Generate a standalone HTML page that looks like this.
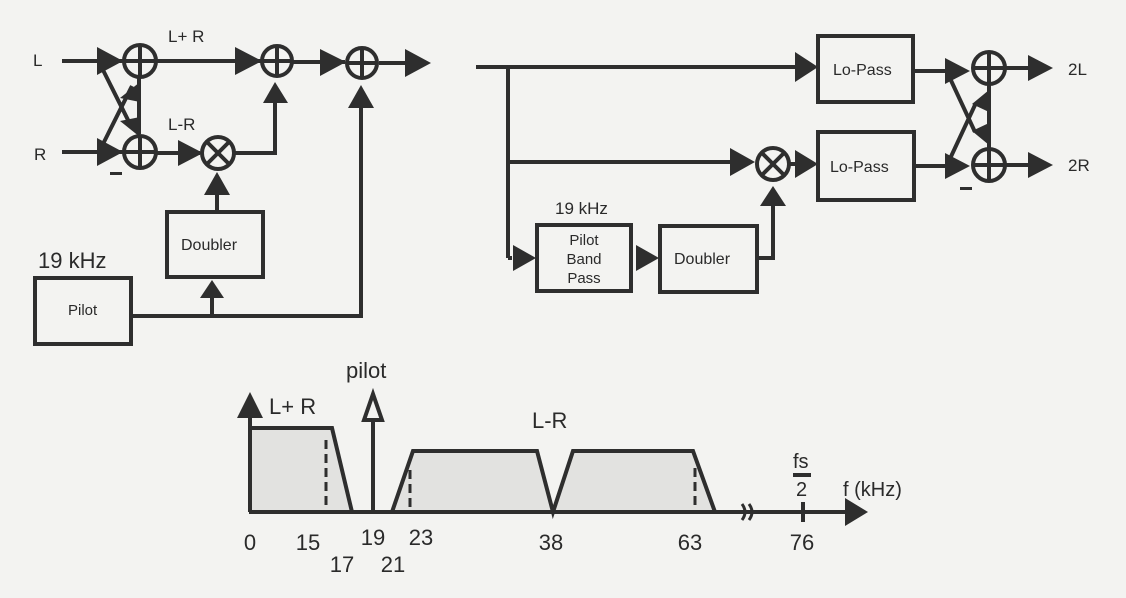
<!DOCTYPE html>
<html><head><meta charset="utf-8"><style>
html,body{margin:0;padding:0;background:#f3f3f1;}
svg{display:block;}
text{font-family:"Liberation Sans",sans-serif;fill:#2a2a2a;}
</style></head><body>
<svg width="1126" height="598" viewBox="0 0 1126 598" xmlns="http://www.w3.org/2000/svg">
<rect width="1126" height="598" fill="#f3f3f1"/>
<g stroke="#2e2e2e" stroke-width="4" fill="none">
<!-- Left encoder -->
<line x1="62" y1="61" x2="123" y2="61"/>
<line x1="62" y1="152" x2="123" y2="152"/>
<line x1="100" y1="64" x2="132" y2="128"/>
<line x1="100" y1="150" x2="132" y2="86"/>
<line x1="139" y1="77" x2="139" y2="134"/>
<line x1="155" y1="61" x2="262" y2="61"/>
<line x1="292" y1="62" x2="345" y2="62"/>
<line x1="379" y1="63" x2="410" y2="63"/>
<line x1="155" y1="153" x2="200" y2="153"/>
<polyline points="234,153 275,153 275,100"/>
<line x1="217" y1="212" x2="217" y2="190"/>
<polyline points="131,316 361,316 361,105"/>
<line x1="212" y1="316" x2="212" y2="295"/>
<rect x="167" y="212" width="96" height="65" stroke-width="4"/>
<rect x="35" y="278" width="96" height="66"/>
<!-- circles -->
<circle cx="140" cy="61" r="16"/><line x1="124" y1="61" x2="156" y2="61"/><line x1="140" y1="45" x2="140" y2="77"/>
<circle cx="140" cy="152" r="16"/><line x1="124" y1="152" x2="156" y2="152"/><line x1="140" y1="136" x2="140" y2="168"/>
<circle cx="277" cy="61" r="15"/><line x1="262" y1="61" x2="292" y2="61"/><line x1="277" y1="46" x2="277" y2="76"/>
<circle cx="362" cy="63" r="15"/><line x1="347" y1="63" x2="377" y2="63"/><line x1="362" y1="48" x2="362" y2="78"/>
<circle cx="218" cy="153" r="16"/><line x1="207" y1="142" x2="229" y2="164"/><line x1="229" y1="142" x2="207" y2="164"/>

<!-- Right decoder -->
<line x1="476" y1="67" x2="796" y2="67"/>
<line x1="508" y1="67" x2="508" y2="258" />
<line x1="508" y1="162" x2="732" y2="162"/>
<line x1="508" y1="258" x2="512" y2="258"/>
<line x1="789" y1="164" x2="796" y2="164"/>
<polyline points="757,258 773,258 773,203"/>
<rect x="818" y="36" width="95" height="66"/>
<rect x="818" y="132" width="96" height="68"/>
<rect x="537" y="225" width="94" height="66"/>
<rect x="660" y="226" width="97" height="66"/>
<circle cx="773" cy="164" r="16"/><line x1="762" y1="153" x2="784" y2="175"/><line x1="784" y1="153" x2="762" y2="175"/>
<line x1="913" y1="71" x2="948" y2="71"/>
<line x1="914" y1="166" x2="948" y2="166"/>
<line x1="948" y1="74" x2="975" y2="132"/>
<line x1="948" y1="163" x2="975" y2="105"/>
<line x1="989" y1="84" x2="989" y2="150"/>
<line x1="1005" y1="68" x2="1032" y2="68"/>
<line x1="1005" y1="165" x2="1032" y2="165"/>
<circle cx="989" cy="68" r="16"/><line x1="973" y1="68" x2="1005" y2="68"/><line x1="989" y1="52" x2="989" y2="84"/>
<circle cx="989" cy="165" r="16"/><line x1="973" y1="165" x2="1005" y2="165"/><line x1="989" y1="149" x2="989" y2="181"/>
</g>
<g fill="#2e2e2e">
<polygon points="97,47 123,61 97,75"/>
<polygon points="97,138 123,152 97,166"/>
<polygon points="140,82 140,102 120,98"/>
<polygon points="140,137 140,117 120,121"/>
<polygon points="235,47 262,61 235,75"/>
<polygon points="320,49 346,62 320,76"/>
<polygon points="405,49 431,63 405,77"/>
<polygon points="178,140 203,153 178,166"/>
<polygon points="263,103 275,82 288,103"/>
<polygon points="204,195 217,172 230,195"/>
<polygon points="200,298 212,280 224,298"/>
<polygon points="348,108 361,85 374,108"/>
<rect x="110" y="172" width="12" height="3"/>
<polygon points="795,52 818,67 795,82"/>
<polygon points="795,150 818,164 795,178"/>
<polygon points="730,148 755,162 730,176"/>
<polygon points="760,206 773,186 786,206"/>
<polygon points="513,245 536,258 513,271"/>
<polygon points="636,245 659,258 636,271"/>
<polygon points="945,58 970,71 945,84"/>
<polygon points="945,153 970,166 945,179"/>
<polygon points="989,90 989,112 972,104"/>
<polygon points="989,145 989,123 972,131"/>
<polygon points="1028,55 1053,68 1028,81"/>
<polygon points="1028,152 1053,165 1028,178"/>
<rect x="960" y="187" width="12" height="3"/>
</g>
<g font-size="17">
<text x="33" y="66">L</text>
<text x="34" y="160">R</text>
<text x="168" y="42">L+ R</text>
<text x="168" y="130">L-R</text>
<text x="181" y="250" font-size="16">Doubler</text>
<text x="68" y="315" font-size="15">Pilot</text>
<text x="38" y="268" font-size="22">19 kHz</text>
<text x="833" y="75" font-size="16">Lo-Pass</text>
<text x="830" y="172" font-size="16">Lo-Pass</text>
<text x="555" y="214" font-size="17">19 kHz</text>
<text x="584" y="245" font-size="15" text-anchor="middle">Pilot</text>
<text x="584" y="264" font-size="15" text-anchor="middle">Band</text>
<text x="584" y="283" font-size="15" text-anchor="middle">Pass</text>
<text x="674" y="264" font-size="16">Doubler</text>
<text x="1068" y="75">2L</text>
<text x="1068" y="171">2R</text>
</g>
<!-- spectrum -->
<g>
<polygon points="250,512 250,428 332,428 352,512" fill="#e2e2e0"/>
<polygon points="392,512 413,451 537,451 553,512 573,451 693,451 715,512" fill="#e2e2e0"/>
<g stroke="#2e2e2e" stroke-width="4" fill="none">
<line x1="249" y1="512" x2="850" y2="512"/>
<line x1="250" y1="512" x2="250" y2="410"/>
<polyline points="250,428 332,428 352,512"/>
<line x1="373" y1="512" x2="373" y2="418"/>
<polyline points="392,512 413,451 537,451 553,512 573,451 693,451 715,512"/>
<line x1="326" y1="440" x2="326" y2="510" stroke-dasharray="9,5" stroke-width="3"/>
<line x1="410" y1="470" x2="410" y2="510" stroke-dasharray="9,5" stroke-width="3"/>
<line x1="695" y1="468" x2="695" y2="510" stroke-dasharray="9,5" stroke-width="3"/>
<line x1="803" y1="502" x2="803" y2="522"/>
<path d="M742 504 q6 8 0 16 M749 504 q6 8 0 16" stroke-width="3"/>
</g>
<polygon points="237,418 250,392 263,418" fill="#2e2e2e"/>
<polygon points="364,420 373,394 382,420" fill="#f3f3f1" stroke="#2e2e2e" stroke-width="4"/>
<polygon points="845,498 868,512 845,526" fill="#2e2e2e"/>
<rect x="793" y="473" width="18" height="4" fill="#2e2e2e"/>
<g font-size="22">
<text x="269" y="414">L+ R</text>
<text x="346" y="378">pilot</text>
<text x="532" y="428">L-R</text>
<text x="793" y="468" font-size="20">fs</text>
<text x="796" y="496" font-size="20">2</text>
<text x="843" y="496" font-size="20">f (kHz)</text>
<text x="250" y="550" text-anchor="middle">0</text>
<text x="308" y="550" text-anchor="middle">15</text>
<text x="342" y="572" text-anchor="middle">17</text>
<text x="373" y="545" text-anchor="middle">19</text>
<text x="393" y="572" text-anchor="middle">21</text>
<text x="421" y="545" text-anchor="middle">23</text>
<text x="551" y="550" text-anchor="middle">38</text>
<text x="690" y="550" text-anchor="middle">63</text>
<text x="802" y="550" text-anchor="middle">76</text>
</g>
</g>
</svg>
</body></html>
